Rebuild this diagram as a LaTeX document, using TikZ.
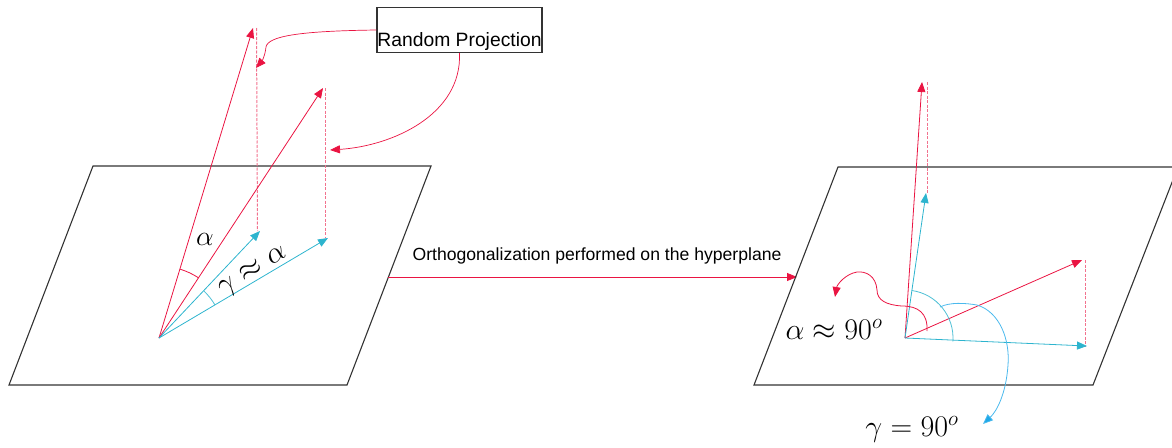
\RequirePackage{fix-cm}
\documentclass[tikz,border=0pt]{standalone}
\usepackage[no-math]{fontspec}
\setmainfont{Liberation Sans}
\usepackage{tikz}
\usetikzlibrary{arrows.meta,calc}
\definecolor{pred}{RGB}{234,20,66}
\definecolor{pblue}{RGB}{45,180,206}
\definecolor{cblue}{RGB}{30,168,232}

\begin{document}
\begin{tikzpicture}[x=1pt,y=-1pt,
    plane/.style={draw=black!80,line width=1.1pt},
    tip/.style={-{Triangle[length=10pt,width=8pt]}},
    vred/.style={tip,draw=pred,fill=none,line width=0.8pt},
    vblue/.style={tip,draw=pblue,line width=0.8pt},
    proj/.style={draw=pred!60,line width=1pt,dash pattern=on 3pt off 1.5pt},
    angred/.style={draw=pred,line width=0.8pt},
    angblue/.style={draw=pblue!85,line width=0.8pt},
    lab/.style={font=\fontsize{17.6}{20}\selectfont},
    mlab/.style={font=\fontsize{30}{34}\selectfont,inner sep=0pt}
]
\useasboundingbox (0,0) rectangle (1172,447);

% left hyperplane
\draw[plane] (93,166) -- (431,166) -- (347,385) -- (9,385) -- cycle;
\coordinate (O1) at (159,338);
\coordinate (r1) at (253,28);
\coordinate (r2) at (323,88);
\coordinate (b1) at (260,231);
\coordinate (b2) at (328,238);

\draw[proj] ([xshift=3.5pt]r1) -- ([xshift=-2.5pt]b1);
\draw[proj] ([xshift=2.5pt]r2) -- ([xshift=-2.5pt]b2);
\draw[vred] (O1) -- (r1);
\draw[vred] (O1) -- (r2);
\draw[vblue] (O1) -- (b1);
\draw[vblue] (O1) -- (b2);

\draw[angred] ($(O1)+(-56.7:72)$) arc[start angle=-56.7,end angle=-73.2,radius=72];
\draw[angblue] ($(O1)+(-30.6:65)$) arc[start angle=-30.6,end angle=-46.6,radius=65];
\node[mlab,font=\fontsize{28}{30}\selectfont] (alpha1) at (205,239) {$\alpha$};
\node[mlab,rotate=31] (gamma1) at (253,272) {$\gamma\approx\alpha$};

% random projection
\node[font=\fontsize{19.3}{22}\selectfont,draw=black!80,line width=1.1pt,minimum width=165pt,
      inner xsep=0pt,inner ysep=1pt,text height=38pt,text depth=5pt] (rp) at (459.5,30) {Random Projection};
\draw[vred,line width=0.7pt] (rp.west) .. controls (300,31) and (268,36) .. (266,47)
    .. controls (265,56) and (262,61) .. (256,68);
\draw[vred,line width=0.7pt] (rp.south) .. controls (462,115) and (392,146) .. (330,150);

% orthogonalization step
\coordinate (h1) at (388,277);
\coordinate (h2) at (797,277);
\draw[vred] (h1) -- (h2);
\node[lab] (ortho) at (597,256) {Orthogonalization performed on the hyperplane};

% right hyperplane
\draw[plane] (838,167) -- (1178,167) -- (1093,385) -- (754,385) -- cycle;
\coordinate (O2) at (905,338);
\coordinate (r3) at (922,82);
\coordinate (r4) at (1082,260);
\coordinate (b3) at (926,193);
\coordinate (b4) at (1087,346);

\draw[proj] ([xshift=5.5pt]r3) -- ([xshift=1.5pt]b3);
\draw[proj] ([xshift=3.5pt]r4) -- ([xshift=-1.5pt]b4);
\draw[vred] (O2) -- (r3);
\draw[vred] (O2) -- (r4);
\draw[vblue] (O2) -- (b3);
\draw[vblue] (O2) -- (b4);

\draw[angblue] ($(O2)+(4:48)$) arc[start angle=4,end angle=-81.8,radius=48];
\draw[angred,tip] (927,331) .. controls (928,313) and (918,306) .. (902,306)
    .. controls (886,305) and (877,300) .. (877,290)
    .. controls (876,276) and (866,271) .. (857,272)
    .. controls (845,274) and (837,285) .. (835,297);
\draw[draw=cblue!80,line width=0.8pt,-{Triangle[length=10pt,width=8pt,fill=cblue]}]
    (940,307) .. controls (950,302) and (965,303) .. (977,305)
    .. controls (1000,312) and (1010,340) .. (1008,365)
    .. controls (1006,395) and (996,412) .. (983,424);
\node[mlab,anchor=base] (alpha2) at (834,339) {$\alpha\approx 90^o$};
\node[mlab,anchor=base] (gamma2) at (912,436) {$\gamma=90^o$};

\end{tikzpicture}
\end{document}
